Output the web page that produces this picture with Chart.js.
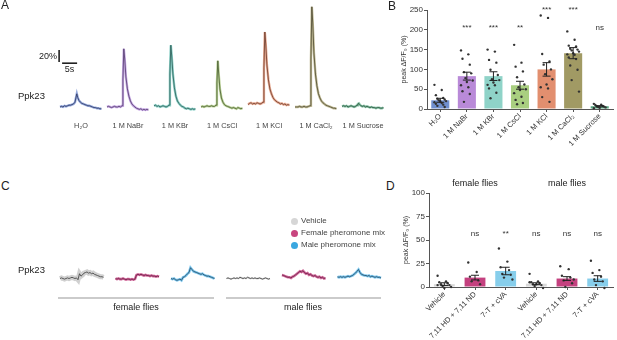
<!DOCTYPE html>
<html>
<head>
<meta charset="utf-8">
<script src="https://cdn.jsdelivr.net/npm/chart.js@4"></script>
<style>
  body { margin: 0; background: #fff; }
  #fig { position: relative; width: 617px; height: 340px; overflow: hidden;
         font-family: "Liberation Sans", "DejaVu Sans", Arial, sans-serif; color: #222; }
  #fig canvas, #fig .t, #fig .rule, #fig .dot { position: absolute; }
  .t { white-space: nowrap; line-height: 1; }
  .letter { font-size: 12px; }
  .rule { height: 2px; background: #cbcbcb; }
  .dot { width: 7px; height: 7px; border-radius: 50%; }
</style>
</head>
<body>
<div id="fig">
  <canvas id="traceA" width="395" height="135" style="left:0;top:0"></canvas>
  <canvas id="barB" width="222" height="170" style="left:395px;top:0"></canvas>
  <canvas id="traceC" width="395" height="60" style="left:0;top:240px"></canvas>
  <canvas id="barD" width="222" height="170" style="left:395px;top:170px"></canvas>

  <div class="t letter" style="left:1px;top:-1px">A</div>
  <div class="t letter" style="left:388px;top:0px">B</div>
  <div class="t letter" style="left:1px;top:180px">C</div>
  <div class="t letter" style="left:386px;top:180px">D</div>
  <div class="t" style="left:18px;top:91px;font-size:9.5px">Ppk23</div>
  <div class="t" style="left:18px;top:265px;font-size:9.5px">Ppk23</div>

  <div class="dot" style="left:291px;top:218px;background:#d6d6d6"></div>
  <div class="dot" style="left:291px;top:230px;background:#c8457f"></div>
  <div class="dot" style="left:291px;top:242px;background:#3aa7e0"></div>
  <div class="t" style="left:301px;top:217px;font-size:8px;color:#444">Vehicle</div>
  <div class="t" style="left:301px;top:229px;font-size:8px;color:#444">Female pheromone mix</div>
  <div class="t" style="left:301px;top:241px;font-size:8px;color:#444">Male pheromone mix</div>

  <div class="rule" style="left:58px;top:297px;width:156px"></div>
  <div class="rule" style="left:226px;top:297px;width:155px"></div>
  <div class="t" style="left:136px;top:303px;font-size:9px;transform:translateX(-50%)">female flies</div>
  <div class="t" style="left:303px;top:303px;font-size:9px;transform:translateX(-50%)">male flies</div>
</div>

<script>
// ---- Panel A: mean ΔF/F0 (%) traces ----
const TIME_A = [0, 0.5, 1, 1.5, 2, 2.5, 3, 3.5, 4, 4.5, 5, 5.3, 5.6, 5.9, 6.3, 6.8, 7.3, 7.8, 8.3, 8.8, 9.3, 9.8, 10.3, 10.8, 11.3, 11.8, 12.3, 12.8, 13.3, 13.8];
const A_LABELS = ['H₂O', '1 M NaBr', '1 M KBr', '1 M CsCl', '1 M KCl', '1 M CaCl₂', '1 M Sucrose'];
const A_H2O     = [0, 1, 0, 2, 1, 2, 3, 3, 4, 5, 8, 15, 22, 16, 11, 8, 6, 5, 4, 3, 2, 2, 1, 0, -1, -1, -2, -2, -3, -3];
const A_NABR    = [0, 1, 0, -1, 0, 1, 0, 0, 1, 0, 2, 45, 97, 80, 50, 30, 18, 10, 5, 2, 0, -2, -3, -4, -3, -5, -4, -5, -4, -5];
const A_KBR     = [2, 3, 1, 2, 0, 1, 2, 1, 0, 1, 3, 55, 103, 85, 55, 32, 18, 10, 6, 3, 1, 0, -2, -3, -2, -3, -4, -3, -4, -3];
const A_CSCL    = [0, 1, 0, 1, 2, 1, 1, 2, 1, 1, 3, 40, 77, 55, 30, 15, 8, 4, 2, 1, 0, -1, -2, -1, -2, -3, -1, -2, -3, -2];
const A_KCL     = [4, 6, 7, 5, 6, 5, 7, 6, 5, 6, 8, 65, 125, 105, 70, 45, 30, 22, 16, 12, 10, 8, 7, 5, 6, 4, 5, 3, 4, 3];
const A_CACL2   = [0, 0, 0, 1, 0, 0, 1, 0, 0, 1, 2, 80, 167, 140, 90, 55, 35, 22, 15, 10, 7, 5, 3, 2, 1, 0, -1, -2, -2, -3];
const A_SUCROSE = [1, 2, 1, 2, 0, 1, 2, 1, 0, 1, 3, 5, 6, 4, 2, 1, 2, 0, 1, 0, -1, 0, -1, -1, -2, -1, -1, -2, -2, -1];
const SCALE_PCT = 20, SCALE_SEC = 5;

// ---- Panel B: peak ΔF/F0 (%) per fly ----
const B_LABELS = A_LABELS;
const B_MEAN = [22, 83, 83, 60, 100, 141, 7];
const B_SEM  = [5, 10, 11, 10, 17, 14, 1.5];
const B_SIG  = ['', '***', '***', '**', '***', '***', 'ns'];
const B_H2O     = [61, 48, 35, 28, 26, 24, 22, 20, 19, 17, 15, 13, 11, 8, 5];
const B_NABR    = [148, 138, 127, 112, 93, 90, 78, 72, 68, 60, 55, 45, 38, 18];
const B_KBR     = [150, 145, 124, 117, 99, 86, 75, 73, 67, 61, 60, 52, 41, 27];
const B_CSCL    = [162, 117, 107, 95, 80, 62, 55, 50, 48, 40, 31, 23, 15, 12];
const B_KCL     = [236, 230, 139, 120, 112, 100, 88, 75, 62, 55, 52, 30, 18];
const B_CACL2   = [196, 175, 160, 158, 152, 150, 148, 145, 141, 138, 137, 130, 126, 110, 99, 73, 44];
const B_SUCROSE = [13, 11, 10, 8, 7, 6, 5, 4, 3, 2];

// ---- Panel C: pheromone traces ----
const TIME_C = [0, 0.5, 1, 1.5, 2, 2.5, 3, 3.5, 4, 4.5, 5, 5.5, 6, 6.5, 7, 7.5, 8, 8.5, 9, 9.5, 10, 10.5, 11, 11.5, 12, 12.5, 13, 13.5, 14, 14.5];
const C_F_VEH  = [0, 1, 0, -1, 0, 1, 0, 1, 2, 1, 0, 1, -2, 8, 4, 6, 9, 10, 11, 9, 10, 8, 9, 7, 6, 5, 4, 3, 3, 2];
const C_F_FEM  = [0, -1, 0, -1, -1, 0, -1, -2, -1, -1, -2, -1, -2, -1, 6, 7, 6, 7, 6, 5, 6, 5, 5, 4, 5, 4, 4, 3, 4, 3];
const C_F_MALE = [0, -1, 0, -2, -3, -2, -1, -3, 2, 3, 5, 8, 10, 18, 15, 12, 11, 10, 9, 8, 7, 8, 6, 5, 4, 4, 3, 2, 1, 0];
const C_M_VEH  = [0, 1, 0, -1, 0, 1, 0, 1, 0, 2, 1, 0, 1, 0, 2, 1, 0, 1, 0, 1, 0, 0, 1, 0, -1, 0, 1, 0, -1, 0];
const C_M_FEM  = [6, 5, 4, 3, 2, 2, 1, 3, 4, 6, 8, 10, 12, 11, 13, 10, 8, 9, 6, 7, 5, 4, 5, 3, 2, 3, 1, 2, 0, 1];
const C_M_MALE = [3, 2, 3, 2, 3, 2, 3, 4, 3, 4, 5, 7, 9, 12, 15, 10, 7, 6, 5, 5, 4, 5, 3, 4, 3, 2, 3, 2, 2, 1];

// ---- Panel D: peak ΔF/F0 (%) per fly ----
const D_LABELS = ['Vehicle', '7,11 HD + 7,11 ND', '7-T + cVA', 'Vehicle', '7,11 HD + 7,11 ND', '7-T + cVA'];
const D_GROUPS = ['female flies', 'male flies'];
const D_MEAN = [3, 10, 17, 3.5, 9, 9];
const D_SEM  = [1.5, 2.5, 4, 1, 2, 3];
const D_SIG  = ['', 'ns', '**', 'ns', 'ns', 'ns'];
const D_F_VEH  = [12, 6, 5, 4, 3, 2, 1, 0, -1, 2];
const D_F_FEM  = [26, 16, 11, 7, 6, 3];
const D_F_MALE = [41, 27, 21, 18, 14, 13, 10, 8];
const D_M_VEH  = [14, 6, 5, 4, 3, 2, 1, -1, 3, 5];
const D_M_FEM  = [22, 19, 12, 10, 7, 4, 0, 8];
const D_M_MALE = [28, 18, 15, 11, 8, 6, 2, -1];

const FONT = '"Liberation Sans", "DejaVu Sans", Arial, sans-serif';
Chart.defaults.font.family = FONT;
Chart.defaults.color = '#333';

// ---------- trace panels ----------
function traceChart(id, time, traces, styles, gap, xr, yr, extra) {
    const datasets = [];
    traces.forEach((tr, i) => {
        const pts = time.map((t, k) => ({x: t + i * gap, y: tr[k]}));
        datasets.push({data: pts, borderColor: styles[i].band, borderWidth: styles[i].w || 2.4, order: 2});
        datasets.push({data: pts, borderColor: styles[i].line, borderWidth: 0.8, order: 1});
    });
    (extra.lines || []).forEach(d => datasets.push(d));
    return new Chart(document.getElementById(id), {
        type: 'line',
        data: {datasets},
        options: {
            responsive: false,
            animation: false,
            layout: {padding: 0},
            elements: {point: {radius: 0}, line: {tension: 0}},
            plugins: {legend: {display: false}, tooltip: {enabled: false}},
            scales: {
                x: {type: 'linear', display: false, min: xr[0], max: xr[1]},
                y: {display: false, min: yr[0], max: yr[1]}
            }
        },
        plugins: extra.plugins || []
    });
}

const A_STYLES = [
    {band: 'rgba(79,111,196,0.6)',  line: '#2b3560'},
    {band: 'rgba(160,110,210,0.6)', line: '#503a68'},
    {band: 'rgba(60,175,160,0.6)',  line: '#2a5a54'},
    {band: 'rgba(140,178,80,0.6)',  line: '#465a30'},
    {band: 'rgba(217,113,74,0.6)',  line: '#6a3a2a'},
    {band: 'rgba(154,144,80,0.6)',  line: '#4a4630'},
    {band: 'rgba(58,154,106,0.6)',  line: '#24503a'}
];
const GAP_A = 15.67;
const SB_X = -0.3, SB_Y = 75;

const aText = {
    id: 'aText',
    afterDraw(chart) {
        const {ctx, scales: {x, y}} = chart;
        ctx.save();
        ctx.fillStyle = '#444';
        ctx.font = '7.3px ' + FONT;
        ctx.textAlign = 'center';
        ctx.textBaseline = 'middle';
        A_LABELS.forEach((l, i) => ctx.fillText(l, x.getPixelForValue(i * GAP_A + 7), 126));
        ctx.fillStyle = '#222';
        ctx.font = '9px ' + FONT;
        ctx.textAlign = 'right';
        ctx.fillText(SCALE_PCT + '%', x.getPixelForValue(SB_X) - 2, y.getPixelForValue(SB_Y + SCALE_PCT / 2) + 1);
        ctx.textAlign = 'center';
        ctx.textBaseline = 'top';
        ctx.fillText(SCALE_SEC + 's', x.getPixelForValue(SB_X + 1 + SCALE_SEC / 2), y.getPixelForValue(SB_Y - 3) + 1);
        ctx.restore();
    }
};

traceChart('traceA', TIME_A,
    [A_H2O, A_NABR, A_KBR, A_CSCL, A_KCL, A_CACL2, A_SUCROSE],
    A_STYLES, GAP_A, [-20, 111.67], [-46.7, 178.3],
    {
        lines: [
            {data: [{x: SB_X, y: SB_Y}, {x: SB_X, y: SB_Y + SCALE_PCT}], borderColor: '#111', borderWidth: 1.5, order: 0},
            {data: [{x: SB_X + 1, y: SB_Y - 2}, {x: SB_X + 1 + SCALE_SEC, y: SB_Y - 2}], borderColor: '#111', borderWidth: 1.5, order: 0}
        ],
        plugins: [aText]
    });

const C_STYLES = [
    {band: 'rgba(200,200,200,0.85)', line: '#3a3a3a', w: 5},
    {band: 'rgba(196,65,127,0.8)',   line: '#6a1f45', w: 2.6},
    {band: 'rgba(90,184,232,0.8)',   line: '#1f4560', w: 2.6},
    {band: 'rgba(200,200,200,0.7)',  line: '#3a3a3a', w: 1.8},
    {band: 'rgba(196,65,127,0.8)',   line: '#6a1f45', w: 2.6},
    {band: 'rgba(90,184,232,0.8)',   line: '#1f4560', w: 2.6}
];
traceChart('traceC', TIME_C,
    [C_F_VEH, C_F_FEM, C_F_MALE, C_M_VEH, C_M_FEM, C_M_MALE],
    C_STYLES, 18.5, [-20, 111.67], [-35.8, 64.2], {});

// ---------- bar panels ----------
const AXIS = '#555';
const jitter = k => (((k * 5) % 9) - 4) * 0.055;

function barChart(id, cfg) {
    const n = cfg.labels.length;
    const pts = [];
    cfg.points.forEach((arr, i) => arr.forEach((v, k) => pts.push({x: i + jitter(k), y: v})));

    const marks = {
        id: 'marks',
        afterDatasetsDraw(chart) {
            const {ctx, scales: {x, y}, chartArea} = chart;
            ctx.save();
            ctx.strokeStyle = '#222';
            ctx.lineWidth = 1;
            cfg.means.forEach((m, i) => {
                const px = x.getPixelForValue(i);
                const top = y.getPixelForValue(m + cfg.sems[i]);
                const bot = y.getPixelForValue(Math.max(0, m - cfg.sems[i]));
                ctx.beginPath();
                ctx.moveTo(px, top); ctx.lineTo(px, bot);
                ctx.moveTo(px - 4, top); ctx.lineTo(px + 4, top);
                ctx.moveTo(px - 4, bot); ctx.lineTo(px + 4, bot);
                ctx.stroke();
            });
            ctx.fillStyle = '#333';
            ctx.font = '8px ' + FONT;
            ctx.textAlign = 'center';
            ctx.textBaseline = 'alphabetic';
            cfg.sig.forEach((s, i) => {
                if (s) ctx.fillText(s, x.getPixelForValue(i), y.getPixelForValue(cfg.sigY[i]));
            });
            if (cfg.groups) {
                ctx.fillStyle = '#222';
                ctx.font = '9px ' + FONT;
                const per = n / cfg.groups.length;
                cfg.groups.forEach((g, j) => {
                    ctx.fillText(g, x.getPixelForValue(j * per + (per - 1) / 2), chartArea.top - 7);
                });
            }
            ctx.restore();
        }
    };

    return new Chart(document.getElementById(id), {
        data: {
            labels: cfg.labels,
            datasets: [
                {type: 'bar', data: cfg.means, backgroundColor: cfg.colors, grouped: false,
                 barPercentage: cfg.barPct, categoryPercentage: 1, order: 2},
                {type: 'scatter', data: pts, xAxisID: 'xs', pointRadius: 1.2,
                 pointBackgroundColor: '#333', pointBorderWidth: 0, clip: false, order: 1}
            ]
        },
        options: {
            responsive: false,
            animation: false,
            layout: {padding: cfg.pad},
            plugins: {legend: {display: false}, tooltip: {enabled: false}},
            scales: {
                x: {
                    type: 'category', offset: true,
                    grid: {drawOnChartArea: false, offset: false, tickLength: 3, color: AXIS},
                    border: {color: AXIS},
                    ticks: {autoSkip: false, minRotation: 45, maxRotation: 45, padding: 0,
                            font: {size: 7.5}, color: '#333'},
                    afterFit: s => { s.height = cfg.xh; }
                },
                xs: {type: 'linear', display: false, min: -0.5, max: n - 0.5},
                y: {
                    min: 0, max: cfg.ymax,
                    ticks: {stepSize: cfg.step, font: {size: 8}, color: '#333', padding: 1},
                    grid: {drawOnChartArea: false, tickLength: 3, color: AXIS},
                    border: {color: AXIS},
                    title: {display: true, text: 'peak ΔF/F₀ (%)', font: {size: 7}, color: '#333',
                            padding: {top: 0, bottom: 2}},
                    afterFit: s => { s.width = cfg.yw; }
                }
            }
        },
        plugins: [marks]
    });
}

barChart('barB', {
    labels: B_LABELS,
    means: B_MEAN, sems: B_SEM, sig: B_SIG,
    sigY: [200, 200, 200, 200, 245, 245, 200],
    points: [B_H2O, B_NABR, B_KBR, B_CSCL, B_KCL, B_CACL2, B_SUCROSE],
    colors: ['#6f8fcf', '#b98ad8', '#8fd3c8', '#a9cf80', '#e28f6f', '#a19a64', '#5aa882'],
    barPct: 0.68, ymax: 250, step: 50,
    pad: {left: 5, right: 2, top: 10, bottom: 0}, xh: 61, yw: 27
});

barChart('barD', {
    labels: D_LABELS,
    means: D_MEAN, sems: D_SEM, sig: D_SIG,
    sigY: [54, 54, 54, 54, 54, 54],
    groups: D_GROUPS,
    points: [D_F_VEH, D_F_FEM, D_F_MALE, D_M_VEH, D_M_FEM, D_M_MALE],
    colors: ['#d9d9d9', '#c4417f', '#87ceeb', '#d9d9d9', '#c4417f', '#87ceeb'],
    barPct: 0.68, ymax: 100, step: 25,
    pad: {left: 7, right: 2, top: 23, bottom: 0}, xh: 53, yw: 27
});
</script>
</body>
</html>
